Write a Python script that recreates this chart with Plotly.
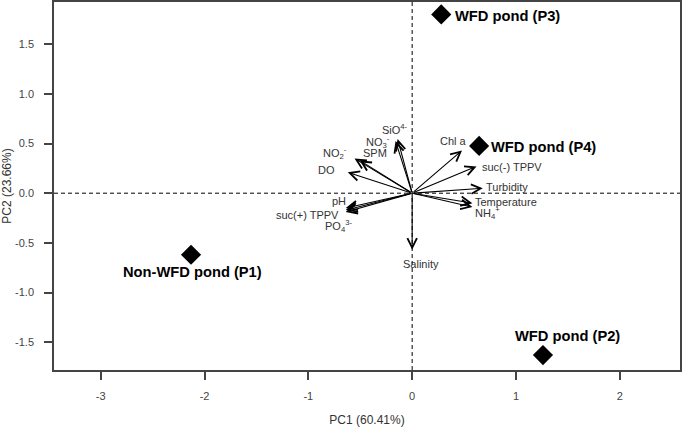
import plotly.graph_objects as go

# ---- data ----
pond_names = ["Non-WFD pond (P1)", "WFD pond (P2)", "WFD pond (P3)", "WFD pond (P4)"]
pond_pc1 = [-2.13, 1.26, 0.28, 0.645]
pond_pc2 = [-0.62, -1.63, 1.80, 0.476]

var_names = ["SiO<sup>4-</sup>", "NO<sub>3</sub><sup>-</sup>", "NO<sub>2</sub><sup>-</sup>", "SPM", "DO",
             "Chl a", "suc(-) TPPV", "Turbidity", "Temperature", "NH<sub>4</sub><sup>+</sup>",
             "pH", "suc(+) TPPV", "PO<sub>4</sub><sup>3-</sup>", "Salinity"]
var_pc1 = [-0.14, -0.16, -0.555, -0.505, -0.62, 0.48, 0.62, 0.68, 0.58, 0.58, -0.64, -0.64, -0.64, 0.0]
var_pc2 = [0.545, 0.525, 0.35, 0.33, 0.21, 0.43, 0.27, 0.05, -0.10, -0.14, -0.15, -0.17, -0.19, -0.57]

x_ticks = [-3, -2, -1, 0, 1, 2]
x_tick_text = ["-3", "-2", "-1", "0", "1", "2"]
y_ticks = [-1.5, -1.0, -0.5, 0.0, 0.5, 1.0, 1.5]
y_tick_text = ["-1.5", "-1.0", "-0.5", "0.0", "0.5", "1.0", "1.5"]

# label placement (pixel offsets / anchors), styling only
var_label_style = [
    ("center", -3, 10), ("right", -4, -1), ("right", -6, 5), ("left", 1, 7), ("right", -11, 2),
    ("center", -8, 9), ("left", 3, -1), ("left", 1, 1), ("left", 1, 1), ("left", 1, -6),
    ("center", -7, 7), ("right", -5, -5), ("center", -7, -14), ("center", 9, -14),
]
pond_label_style = [("center", 1, -17), ("center", 25, 19), ("left", 12, -2), ("left", 10, -1)]

FONT = "Liberation Sans, Arial, sans-serif"

fig = go.Figure()

fig.add_trace(go.Scatter(
    x=pond_pc1, y=pond_pc2, mode="markers",
    marker=dict(symbol="diamond", size=15.5, color="black", line=dict(width=0)),
    showlegend=False, hoverinfo="skip",
))

annotations = []
for i, name in enumerate(var_names):
    annotations.append(dict(
        x=var_pc1[i], y=var_pc2[i], xref="x", yref="y",
        ax=0, ay=0, axref="x", ayref="y",
        text="", showarrow=True, arrowhead=5, arrowsize=1.7, arrowwidth=1.1,
        arrowcolor="black", standoff=0, startstandoff=0,
    ))
    xa, xs, ys = var_label_style[i]
    annotations.append(dict(
        x=var_pc1[i], y=var_pc2[i], xref="x", yref="y", text=name, showarrow=False,
        xanchor=xa, yanchor="middle", xshift=xs, yshift=ys,
        font=dict(family=FONT, size=11, color="#333333"),
    ))

for i, name in enumerate(pond_names):
    xa, xs, ys = pond_label_style[i]
    annotations.append(dict(
        x=pond_pc1[i], y=pond_pc2[i], xref="x", yref="y", text="<b>" + name + "</b>",
        showarrow=False, xanchor=xa, yanchor="middle", xshift=xs, yshift=ys,
        font=dict(family=FONT, size=14.7, color="black"),
    ))

fig.add_shape(type="line", xref="x", yref="paper", x0=0, x1=0, y0=0, y1=1,
              line=dict(color="black", width=1, dash="4px,3px"), layer="below")
fig.add_shape(type="line", xref="paper", yref="y", x0=0, x1=1, y0=0, y1=0,
              line=dict(color="black", width=1, dash="4px,3px"), layer="below")

axis_common = dict(
    showgrid=False, zeroline=False, showline=True, linecolor="#444444", linewidth=1.5,
    mirror=True, ticks="outside", ticklen=8, tickwidth=1.5, tickcolor="#444444",
    automargin=False,
    tickfont=dict(family=FONT, size=11, color="#444444"),
)

fig.update_layout(
    width=685, height=428,
    margin=dict(l=54, r=5, t=2, b=58),
    paper_bgcolor="white", plot_bgcolor="white",
    annotations=annotations,
    xaxis=dict(range=[-3.45, 2.58], tickvals=x_ticks, ticktext=x_tick_text, ticklabelstandoff=7,
               title=dict(text="PC1 (60.41%)", standoff=15,
                          font=dict(family=FONT, size=12, color="#333333")),
               **axis_common),
    yaxis=dict(range=[-1.78, 1.925], tickvals=y_ticks, ticktext=y_tick_text, ticklabelstandoff=8,
               title=dict(text="PC2 (23.66%)", standoff=4,
                          font=dict(family=FONT, size=12, color="#333333")),
               **axis_common),
)

fig.write_html("out.html", config={"displayModeBar": False},
               post_script="document.body.style.margin='0px';")
